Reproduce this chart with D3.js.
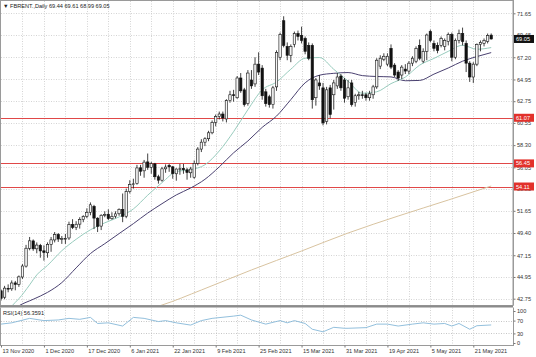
<!DOCTYPE html>
<html><head><meta charset="utf-8">
<script src="https://cdn.jsdelivr.net/npm/d3@7"></script>
<style>
html,body{margin:0;padding:0;background:#fff;}
svg{display:block;font-family:"Liberation Sans",Arial,sans-serif;}
</style></head><body>
<svg id="c" width="536" height="357"></svg>
<script>
// ---- data ----
const symbolTitle = "FBRENT.,Daily";
const lastOHLC = [69.44, 69.61, 68.99, 69.05];
const open  = [43.55,42.90,43.80,43.75,44.35,44.20,44.95,46.05,47.85,48.60, 47.80,48.15,47.60,47.40,48.25,48.70,49.25,48.80,48.80,48.90, 50.25,49.95,50.30,50.75,51.10,51.50,52.10,50.90,50.10,51.20, 51.30,50.85,51.10,51.35,51.80,51.10,53.60,54.30,54.40,56.00, 55.70,56.60,56.05,56.40,55.10,54.75,55.90,56.25,56.10,55.40, 55.90,55.95,55.80,55.50,55.05,56.45,57.90,58.60,58.95,59.55, 60.60,61.20,61.45,60.95,62.80,63.40,63.10,65.10,63.90,62.50, 64.90,64.50,66.50,66.10,63.70,63.20,62.40,64.20,67.20,70.90, 68.30,67.40,68.50,69.60,69.40,69.10,68.40,68.40,63.10,64.60, 64.10,60.70,64.10,63.40,64.30,65.30,64.90,63.20,64.60,62.60, 63.30,63.40,63.40,63.10,63.40,64.20,66.30,67.00,66.50,68.10, 66.40,65.70,65.40,66.00,65.80,66.60,66.80,68.40,66.80,67.80, 69.80,68.60,68.40,68.40,68.30,68.80,69.50,67.20,68.90,69.60, 68.60,66.60,65.20,66.50,68.50,68.60,68.80,69.44];
const high  = [43.70,44.05,44.20,44.60,44.55,45.10,46.25,48.20,49.00,48.75, 48.45,48.30,48.15,48.45,49.00,49.50,49.40,49.10,49.30,50.55, 50.80,50.60,51.00,51.20,51.90,52.50,52.25,51.00,51.30,51.60, 51.80,51.50,51.60,51.90,53.40,53.90,54.75,54.90,56.30,56.30, 56.80,57.45,56.60,56.50,55.30,56.10,56.35,56.40,56.20,55.95, 56.40,56.40,56.00,56.10,56.75,58.10,58.90,59.10,59.75,60.80, 61.40,61.70,61.70,62.95,63.80,63.90,65.30,65.60,64.10,65.90, 65.90,67.20,67.70,66.40,64.00,63.40,64.30,67.90,69.70,71.35, 68.70,68.50,69.80,69.90,70.30,69.30,68.70,68.60,65.10,65.40, 64.60,64.20,64.40,64.90,65.60,65.50,65.10,64.90,64.90,63.50, 63.70,63.80,63.60,63.80,64.40,67.10,67.40,67.60,67.60,68.50, 66.60,65.90,66.40,66.50,66.80,67.30,68.30,69.00,68.10,69.60, 70.00,68.90,68.70,69.30,69.10,69.70,69.70,69.10,70.00,70.20, 68.90,66.80,66.70,68.60,68.90,69.10,69.60,69.61];
const low   = [42.55,42.70,43.40,43.55,43.60,43.95,44.75,45.90,47.65,47.60, 47.35,46.90,46.60,46.90,47.50,48.45,48.50,48.30,48.30,48.70, 49.80,49.70,49.85,50.50,50.90,51.20,49.80,49.50,49.70,51.00, 50.70,50.75,50.90,51.15,50.50,50.90,53.40,53.90,54.30,55.20, 55.00,55.80,55.40,54.80,54.40,54.60,55.50,55.60,54.90,54.70, 55.30,55.40,54.80,55.00,54.90,56.25,57.60,58.20,58.70,59.40, 60.20,60.90,60.70,60.60,62.60,62.70,63.00,63.60,62.20,62.30, 64.00,64.20,65.40,62.90,62.20,62.10,62.00,63.80,66.90,68.20, 66.90,66.70,68.20,68.90,68.60,67.50,66.90,62.00,62.30,63.90, 60.30,60.40,61.00,61.90,64.00,63.80,62.60,62.90,62.20,62.20, 62.90,63.00,62.80,62.80,63.00,64.00,66.00,66.80,66.30,66.00, 65.20,64.80,65.00,65.50,65.50,66.30,66.60,66.90,66.60,66.90, 68.70,67.80,67.60,68.20,67.90,68.40,66.80,67.00,68.60,68.40, 65.70,64.70,64.60,66.30,67.80,68.30,68.60,68.99];
const close = [42.78,43.82,43.75,44.34,44.20,44.96,46.06,47.86,48.61,47.80, 48.18,47.59,47.42,48.25,48.71,49.25,48.79,48.84,48.86,50.25, 49.97,50.29,50.76,51.08,51.50,52.26,50.91,50.08,51.20,51.29, 50.86,51.09,51.34,51.80,51.09,53.60,54.30,54.38,55.99,55.66, 56.58,56.06,56.42,55.10,54.75,55.90,56.08,56.10,55.41,55.88, 55.91,55.81,55.53,55.88,56.45,57.90,58.60,58.95,59.55,60.60, 61.20,61.45,61.05,62.80,63.40,63.35,65.10,63.80,62.40,65.60, 64.30,66.50,65.70,63.30,62.50,62.40,64.10,67.70,69.50,68.40, 67.40,68.30,69.60,69.30,68.90,67.80,67.10,62.90,64.90,64.30, 60.55,63.90,61.40,64.60,65.20,64.10,63.05,64.10,62.40,63.30, 63.40,63.35,63.10,63.50,64.20,66.90,67.10,67.30,67.30,66.20, 65.40,65.10,66.20,65.80,66.60,67.10,68.10,67.10,67.80,69.45, 68.90,68.10,67.90,69.10,68.90,69.50,67.20,68.90,69.60,68.80, 66.60,65.20,66.50,68.50,68.70,68.90,69.40,69.05];

// moving averages: [bar index, value]
const maFast = [[0,40.86],[4,42.38],[5,42.75],[8,44.15],[10,45.16],[13,46.12],[17,47.61],[21,48.77],[25,49.73],[29,50.43],[33,51.03],[37,51.84],[41,53.23],[45,54.50],[49,55.62],[53,55.82],[57,56.31],[61,57.71],[65,59.66],[69,61.89],[73,63.90],[77,64.69],[81,65.99],[85,67.10],[89,67.17],[93,65.98],[97,64.78],[101,63.55],[105,63.70],[109,64.53],[113,65.19],[117,66.40],[121,67.08],[125,67.80],[129,68.41],[133,68.01],[137,68.18]];
const maSlow = [[0,40.6],[5,42.03],[9,42.69],[13,43.39],[17,44.38],[21,45.87],[25,47.32],[29,48.32],[33,49.34],[37,50.35],[41,51.42],[45,52.37],[49,53.26],[53,53.96],[57,54.84],[61,56.10],[65,57.52],[69,58.72],[73,60.10],[77,61.24],[81,62.91],[85,64.61],[89,65.38],[93,65.57],[97,65.65],[101,65.34],[105,65.25],[109,65.21],[113,64.82],[117,64.85],[121,65.49],[125,66.11],[129,66.80],[133,67.27],[137,67.67]];
const maLong = [[38,41.4],[45,42.11],[56,43.63],[70,45.66],[84,47.58],[97,49.40],[111,51.12],[125,52.74],[137,54.16]];
const rsi = [[0,59],[3,63],[8,77],[12,70],[16,72],[19,77],[22,74],[25,80],[27,61],[30,63],[34,53],[37,80],[40,77],[44,67],[46,70],[49,63],[53,56],[56,70],[59,77],[65,84],[67,87],[70,72],[74,59],[78,70],[80,63],[82,70],[85,61],[87,43],[90,35],[93,49],[96,46],[97,46],[102,48],[105,59],[108,59],[111,53],[115,59],[118,63],[121,59],[124,61],[126,53],[128,61],[131,43],[133,54],[137,56.36]];
const rsiLast = "56.3591";
const levels = [61.07, 56.45, 54.11];
const priceTicks = [71.65, 69.45, 67.20, 64.95, 62.75, 60.55, 58.30, 56.05, 53.85, 51.65, 49.40, 47.15, 44.95, 42.75];
const rsiTicks = [100, 70, 30, 0];
const dateBars = [0,12,24,36,48,60,72,84,96,108,120,132];
const dateLabels = ["13 Nov 2020","1 Dec 2020","17 Dec 2020","6 Jan 2021","22 Jan 2021","9 Feb 2021","25 Feb 2021","15 Mar 2021","31 Mar 2021","19 Apr 2021","5 May 2021","21 May 2021"];

// ---- layout ----
const svg = d3.select("#c");
const W = 536, H = 357;
const axisX = 513;
const main = {top:1, bottom:305.5};
const sub = {top:307.5, bottom:345};
const x = d3.scaleLinear().domain([0, 137]).range([1, 491.2]);
const y = d3.scaleLinear().domain([42.75, 71.65]).range([298.7, 13.3]);
const ry = d3.scaleLinear().domain([0, 100]).range([343, 311]);
const fs = 5.6;

svg.append("rect").attr("width",W).attr("height",H).attr("fill","#fff");
const defs = svg.append("defs");
defs.append("clipPath").attr("id","cm").append("rect").attr("x",1).attr("y",main.top).attr("width",axisX-1).attr("height",main.bottom-main.top);
defs.append("clipPath").attr("id","cs").append("rect").attr("x",1).attr("y",sub.top).attr("width",axisX-1).attr("height",sub.bottom-sub.top);

const gridCol = "#c9c9c9";
const vgrid = d3.range(6, 138, 6);
const gm = svg.append("g").attr("clip-path","url(#cm)");
gm.selectAll("line.vg").data(vgrid).join("line")
  .attr("x1",d=>Math.round(x(d))+0.5).attr("x2",d=>Math.round(x(d))+0.5)
  .attr("y1",main.top).attr("y2",main.bottom)
  .attr("stroke",gridCol).attr("stroke-width",0.8).attr("stroke-dasharray","1,1.5");
gm.selectAll("line.hg").data(priceTicks).join("line")
  .attr("x1",1).attr("x2",axisX)
  .attr("y1",d=>Math.round(y(d))+0.5).attr("y2",d=>Math.round(y(d))+0.5)
  .attr("stroke",gridCol).attr("stroke-width",0.8).attr("stroke-dasharray","1,1.5");

// horizontal level lines
gm.selectAll("line.lv").data(levels).join("line")
  .attr("x1",1).attr("x2",axisX)
  .attr("y1",d=>Math.round(y(d))+0.5).attr("y2",d=>Math.round(y(d))+0.5)
  .attr("stroke","#e04848").attr("stroke-width",1).attr("shape-rendering","crispEdges");

// moving averages
const lineGen = d3.line().x(d=>x(d[0])).y(d=>y(d[1])).curve(d3.curveMonotoneX);
gm.append("path").datum(maLong).attr("d",lineGen).attr("fill","none").attr("stroke","#d8c3a0").attr("stroke-width",1);
gm.append("path").datum(maSlow).attr("d",lineGen).attr("fill","none").attr("stroke","#4a4170").attr("stroke-width",1);
gm.append("path").datum(maFast).attr("d",lineGen).attr("fill","none").attr("stroke","#98cbbd").attr("stroke-width",1);

// candles
const bw = 2.4;
const idx = d3.range(close.length);
gm.selectAll("line.wick").data(idx).join("line")
  .attr("x1",i=>x(i)).attr("x2",i=>x(i))
  .attr("y1",i=>y(high[i])).attr("y2",i=>y(low[i]))
  .attr("stroke","#111").attr("stroke-width",0.8);
gm.selectAll("rect.body").data(idx).join("rect")
  .attr("x",i=>x(i)-bw/2)
  .attr("y",i=>y(Math.max(open[i],close[i])))
  .attr("width",bw)
  .attr("height",i=>Math.max(0.8, Math.abs(y(open[i])-y(close[i]))))
  .attr("fill",i=>close[i]>=open[i]?"#f4f4f4":"#111")
  .attr("stroke","#111").attr("stroke-width",0.6);

// ---- RSI panel ----
const gs = svg.append("g").attr("clip-path","url(#cs)");
gs.selectAll("line.vg").data(vgrid).join("line")
  .attr("x1",d=>Math.round(x(d))+0.5).attr("x2",d=>Math.round(x(d))+0.5)
  .attr("y1",sub.top).attr("y2",sub.bottom)
  .attr("stroke",gridCol).attr("stroke-width",0.8).attr("stroke-dasharray","1,1.5");
gs.selectAll("line.rl").data([70,30]).join("line")
  .attr("x1",1).attr("x2",axisX)
  .attr("y1",d=>Math.round(ry(d))+0.5).attr("y2",d=>Math.round(ry(d))+0.5)
  .attr("stroke","#b8b8b8").attr("stroke-width",0.8).attr("stroke-dasharray","1,1.5");
gs.append("path").datum(rsi)
  .attr("d",d3.line().x(d=>x(d[0])).y(d=>ry(d[1])))
  .attr("fill","none").attr("stroke","#86b8d8").attr("stroke-width",0.9);

// panel borders
svg.append("rect").attr("x",0.5).attr("y",0.5).attr("width",axisX-0.5).attr("height",main.bottom-0.5)
  .attr("fill","none").attr("stroke","#9a9a9a").attr("stroke-width",1);
svg.append("rect").attr("x",0).attr("y",main.bottom).attr("width",axisX).attr("height",sub.top-main.bottom)
  .attr("fill","#8a8a8a");
svg.append("line").attr("x1",0.5).attr("x2",0.5).attr("y1",sub.top).attr("y2",sub.bottom).attr("stroke","#9a9a9a");
svg.append("line").attr("x1",0).attr("x2",axisX).attr("y1",sub.bottom+0.5).attr("y2",sub.bottom+0.5).attr("stroke","#9a9a9a");

// price axis
const ay = svg.append("g").attr("transform",`translate(${axisX+0.5},0)`)
  .call(d3.axisRight(y).tickValues(priceTicks).tickFormat(d3.format(".2f")).tickSize(2).tickPadding(1.5));
ay.select(".domain").attr("stroke","#9a9a9a").attr("d",`M0,0V${main.bottom}`);
ay.selectAll(".tick line").attr("stroke","#777");
ay.selectAll("text").attr("font-size",fs).attr("fill","#333").attr("font-family","Liberation Sans, Arial, sans-serif");

// RSI axis
const ar = svg.append("g").attr("transform",`translate(${axisX+0.5},0)`)
  .call(d3.axisRight(ry).tickValues(rsiTicks).tickSize(2).tickPadding(1.5));
ar.select(".domain").attr("stroke","#9a9a9a").attr("d",`M0,${sub.top}V${sub.bottom+1}`);
ar.selectAll(".tick line").attr("stroke","#777");
ar.selectAll("text").attr("font-size",fs).attr("fill","#333").attr("font-family","Liberation Sans, Arial, sans-serif");

// level labels (red boxes) drawn over the tick labels as in the reference
const lab = svg.append("g");
levels.forEach(v=>{
  const yy = y(v);
  lab.append("rect").attr("x",axisX+1).attr("y",yy-4).attr("width",20).attr("height",8).attr("fill","#e2312b");
  lab.append("text").attr("x",axisX+3).attr("y",yy+2).attr("font-size",fs).attr("fill","#fff").text(v.toFixed(2));
});
{
  const v = lastOHLC[3], yy = y(v);
  lab.append("rect").attr("x",axisX+1).attr("y",yy-4).attr("width",20).attr("height",8).attr("fill","#111");
  lab.append("text").attr("x",axisX+3).attr("y",yy+2).attr("font-size",fs).attr("fill","#fff").text(v.toFixed(2));
}

// time axis
const ax = svg.append("g").attr("transform",`translate(0,${sub.bottom+0.5})`)
  .call(d3.axisBottom(x).tickValues(dateBars).tickFormat((d,i)=>dateLabels[i]).tickSize(2).tickPadding(2));
ax.select(".domain").remove();
ax.selectAll(".tick line").attr("stroke","#777");
ax.selectAll("text").attr("font-size",fs).attr("fill","#333").attr("text-anchor","start").attr("dx",1)
  .attr("font-family","Liberation Sans, Arial, sans-serif");

// titles
svg.append("text").attr("x",3).attr("y",7.5).attr("font-size",fs).attr("fill","#222")
  .text("\u25BC " + symbolTitle + "  " + lastOHLC.map(d=>d.toFixed(2)).join(" "));
svg.append("text").attr("x",3).attr("y",315).attr("font-size",fs).attr("fill","#222")
  .text("RSI(14) " + rsiLast);
</script>
</body></html>
